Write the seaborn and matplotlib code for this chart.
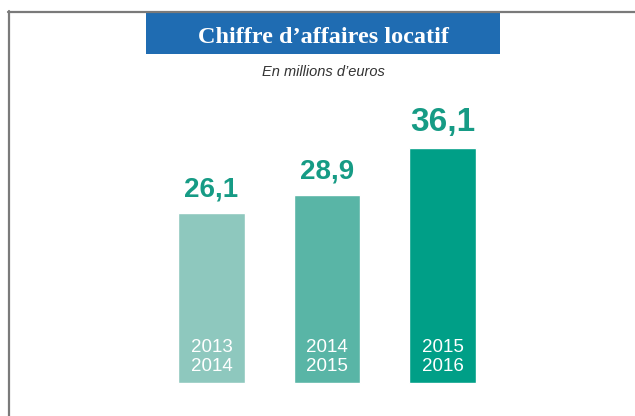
import matplotlib
matplotlib.use("Agg")
import matplotlib.pyplot as plt
import seaborn as sns
from matplotlib.patches import Rectangle
from matplotlib.lines import Line2D

periods = ["2013-2014", "2014-2015", "2015-2016"]
period_lines = [["2013", "2014"], ["2014", "2015"], ["2015", "2016"]]
values = [26.1, 28.9, 36.1]
value_labels = ["26,1", "28,9", "36,1"]
bar_colors = ["#8EC8BE", "#59B5A6", "#009F87"]
title = "Chiffre d\u2019affaires locatif"
subtitle = "En millions d\u2019euros"

sns.set_theme(style="white")
plt.rcParams['font.family'] = ['Liberation Sans', 'DejaVu Sans']

W, H = 635, 416
fig = plt.figure(figsize=(W / 100, H / 100), dpi=100)
ax = fig.add_axes([0, 0, 1, 1])

sns.barplot(x=periods, y=values, hue=periods, palette=bar_colors, legend=False,
            width=0.58, saturation=1, ax=ax)

xs = 115.5
x0 = 211.5
ys = 6.5
base = 383
ax.set_xlim(-x0 / xs, (W - x0) / xs)
ax.set_ylim(-(H - base) / ys, base / ys)
ax.axis("off")

def fx(px):
    return px / W

def fy(py):
    return 1 - py / H

fig.add_artist(Line2D([fx(8), fx(W)], [fy(11.5), fy(11.5)], color="#7a7a7a", lw=1.6))
fig.add_artist(Line2D([fx(8.5), fx(8.5)], [fy(11), fy(H)], color="#7a7a7a", lw=1.6))

fig.add_artist(Rectangle((fx(146), fy(54)), fx(500) - fx(146), fy(12) - fy(54),
                         facecolor="#1F6CB2", edgecolor="none"))
fig.text(fx(323), fy(43), title, ha="center", va="baseline", color="white",
         fontsize=17.5, fontweight="bold", family=["Liberation Serif", "DejaVu Serif"])
fig.text(fx(323), fy(76), subtitle, ha="center", va="baseline", color="#333333",
         fontsize=10.5, style="italic", family=["Liberation Sans"])

pt = 72 / 100
for i, (v, lab) in enumerate(zip(values, value_labels)):
    fs = 24 if i == 2 else 20
    ax.annotate(lab, xy=(i, v), xytext=(0, 17 * pt), textcoords="offset points",
                ha="center", va="baseline", color="#169B85", fontsize=fs,
                fontweight="bold", family=["Liberation Sans"])
    lines = period_lines[i]
    for k, line in enumerate(lines):
        off = 12 + (len(lines) - 1 - k) * 18.5
        ax.annotate(line, xy=(i, 0), xytext=(0, off * pt), textcoords="offset points",
                    ha="center", va="baseline", color="white", fontsize=13.5,
                    family=["Liberation Sans"])

fig.savefig("out.png", dpi=100)
